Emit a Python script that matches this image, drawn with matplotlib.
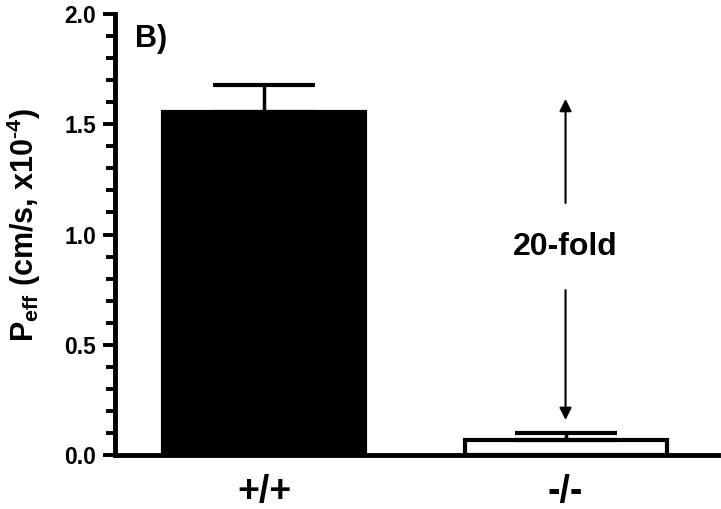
import matplotlib
matplotlib.use("Agg")
import matplotlib.pyplot as plt
from matplotlib.ticker import MultipleLocator

plt.rcParams['font.family'] = ['Liberation Sans', 'DejaVu Sans']
plt.rcParams['font.weight'] = 'bold'
plt.rcParams['mathtext.fontset'] = 'custom'
plt.rcParams['mathtext.rm'] = 'Liberation Sans:bold'
plt.rcParams['mathtext.bf'] = 'Liberation Sans:bold'
plt.rcParams['mathtext.it'] = 'Liberation Sans:bold'

# data
genotypes = ["+/+", "-/-"]
peff = [1.555, 0.068]
peff_err = [0.125, 0.032]
fill_colors = ["black", "white"]

arrow_top = 1.615
arrow_mid_hi = 1.143
arrow_mid_lo = 0.748
arrow_bottom = 0.159
fold_label = "20-fold"

fig = plt.figure(figsize=(7.21, 5.09), dpi=100)
ax = fig.add_axes([0.1595, 0.106, 0.8365, 0.8665])

x = range(len(genotypes))
ax.bar(x, peff, width=0.67, color=fill_colors, edgecolor="black",
       linewidth=3, zorder=2)
ax.errorbar(x, peff, yerr=[[0, 0], peff_err], fmt="none", ecolor="black",
            elinewidth=2.5, capsize=37, capthick=3, zorder=3)

# 20-fold arrows
arrow_kw = dict(arrowstyle="-|>", lw=1.5, color="black", mutation_scale=18,
                shrinkA=0, shrinkB=0)
ax.annotate("", xy=(1, arrow_top), xytext=(1, arrow_mid_hi), arrowprops=arrow_kw)
ax.annotate("", xy=(1, arrow_bottom), xytext=(1, arrow_mid_lo), arrowprops=arrow_kw)
ax.text(1, (arrow_mid_hi + arrow_mid_lo) / 2, fold_label, ha="center",
        va="center", fontsize=23, fontweight="bold")

ax.text(0.033, 0.978, "B)", transform=ax.transAxes, ha="left", va="top",
        fontsize=22, fontweight="bold")

ax.set_xlim(-0.494, 1.506)
ax.set_ylim(0, 2.0)
ax.set_xticks(list(x))
ax.set_xticklabels(genotypes, fontsize=27, fontweight="bold")
ax.tick_params(axis="x", length=0, pad=14)
ax.yaxis.set_major_locator(MultipleLocator(0.5))
ax.yaxis.set_minor_locator(MultipleLocator(0.1))
ax.yaxis.set_major_formatter(matplotlib.ticker.FormatStrFormatter("%.1f"))
ax.tick_params(axis="y", which="major", length=8.6, width=2.8, labelsize=16.5, pad=5)
ax.tick_params(axis="y", which="minor", length=6.5, width=2.8)
for lab in ax.get_yticklabels():
    lab.set_fontweight("bold")

ax.set_ylabel(r"P$_{\rm eff}$ (cm/s, x10$^{\text{-4}}$)", fontsize=22,
              fontweight="bold", labelpad=15)
ax.yaxis.label.set_y(0.523)

ax.spines["top"].set_visible(False)
ax.spines["right"].set_visible(False)
ax.spines["left"].set_linewidth(3.5)
ax.spines["bottom"].set_linewidth(3.5)

fig.savefig("out.png", dpi=100)
